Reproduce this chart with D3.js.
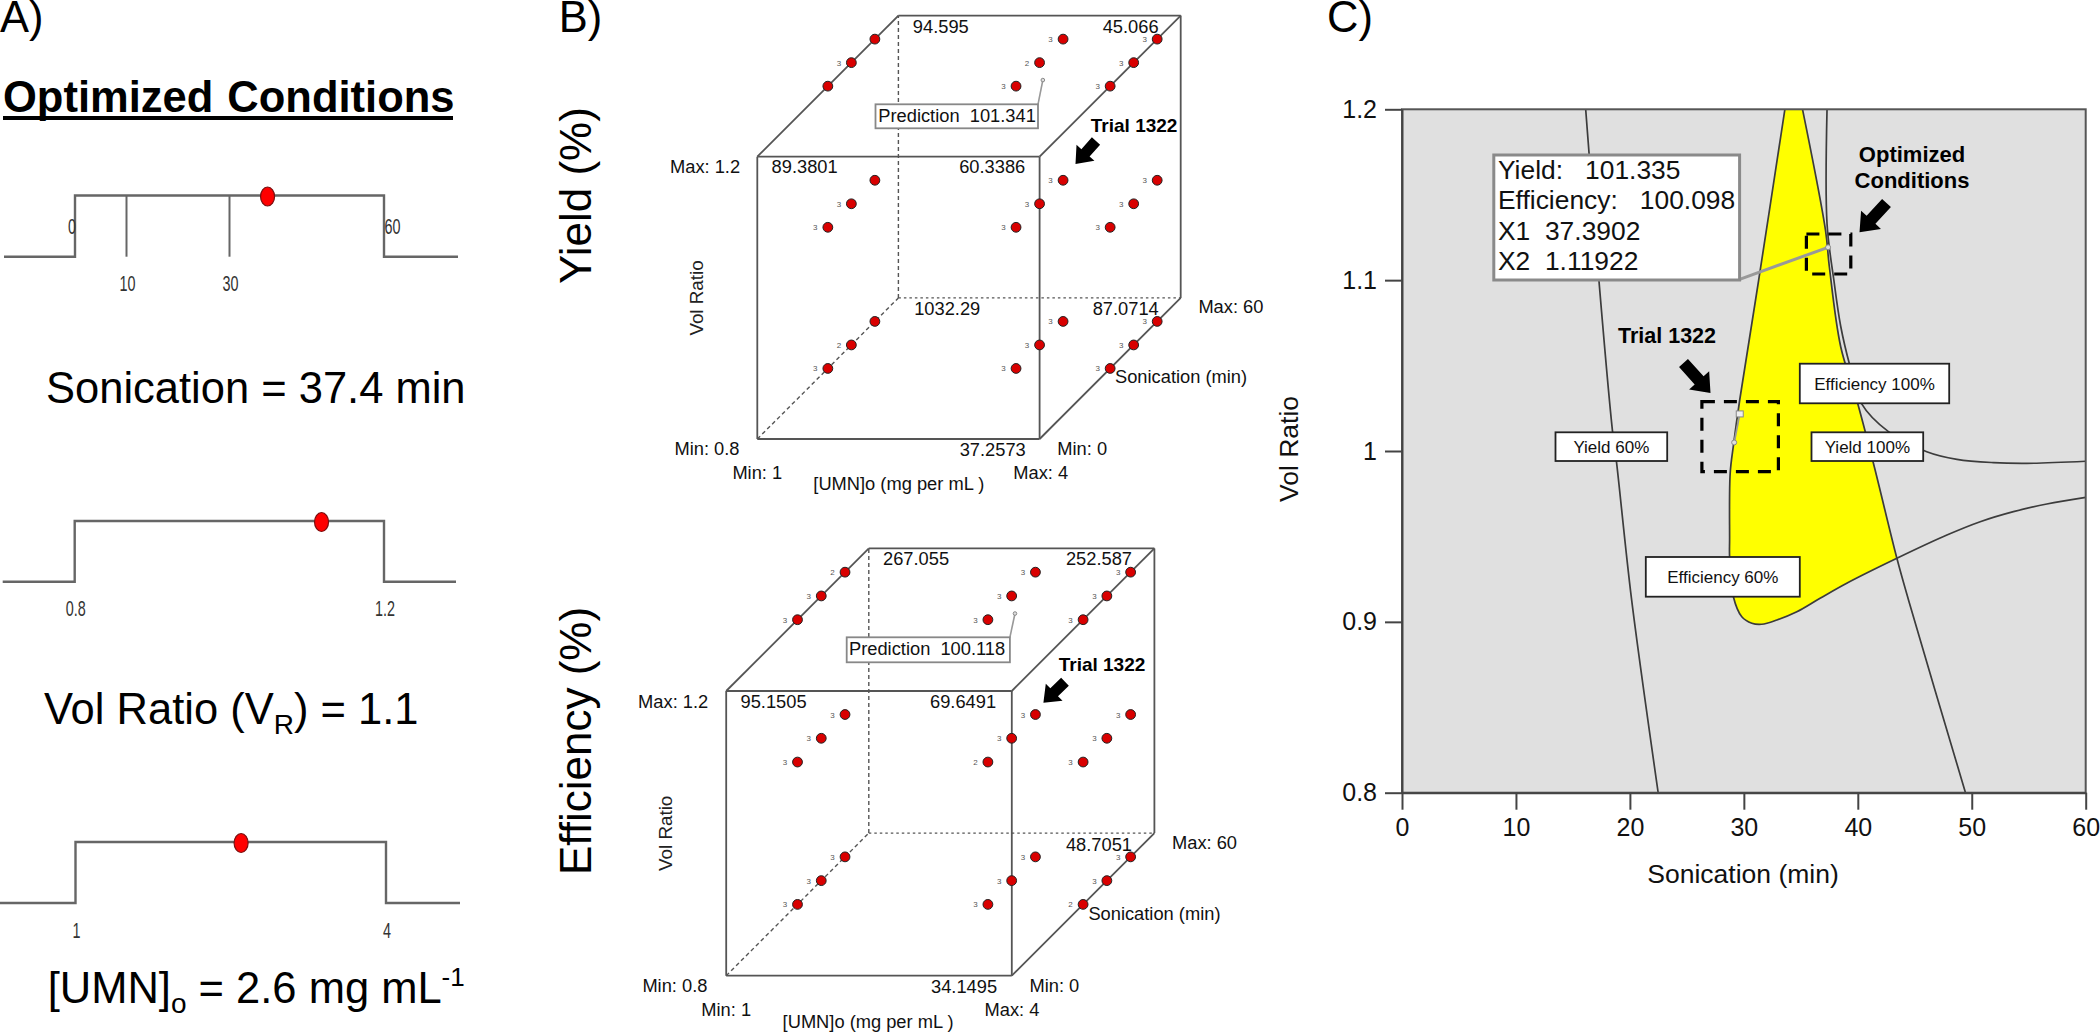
<!DOCTYPE html>
<html><head><meta charset="utf-8">
<script src="https://cdnjs.cloudflare.com/ajax/libs/d3/7.8.5/d3.min.js"></script>
<style>html,body{margin:0;padding:0;background:#fff}svg{display:block}text{font-family:"Liberation Sans",Arial,sans-serif;white-space:pre}</style>
</head><body><svg id="c" width="2100" height="1032"></svg>
<script>
// ---------- DATA ----------
const sonicationRange=[0,60], volRange=[0.8,1.2], umnRange=[1,4];
const sonicationInnerTicks=[10,30];
const optimized={sonication:37.3902, vol:1.11922, umn:2.6};
const designUmn=[1,3,4], designSonication=[30,40,50], designVol=[1.2,1.0,0.8];
// replicate counts: [vol][umn][sonication]; 0 = no label visible
const yieldReplicates=[[[0,3,0],[3,2,3],[3,3,3]],[[3,3,0],[3,3,3],[3,3,3]],[[3,2,0],[3,3,3],[3,3,3]]];
const efficiencyReplicates=[[[3,3,2],[3,3,3],[3,3,3]],[[3,3,3],[2,3,3],[3,3,3]],[[3,3,3],[3,3,3],[2,3,3]]];
const predictionPoint=[3.1,37.39,1.184];
const contourXTicks=[0,10,20,30,40,50,60], contourYTicks=[0.8,0.9,1,1.1,1.2];
const yield60=[[16.12,1.2],[16.43,1.173],[17.28,1.1],[18.5,1.01],[18.8,.995],[20.15,.913],[22.48,.8]];
const yield100=[[35.15,1.2],[37.17,1.129],[37.5,1.108],[38.5,1.061],[39.9,1.03],[41.37,.9928],[43.43,.9372],[44.45,.9128],[49.45,.8]];
const efficiency100=[[37.3,1.2],[37.3,1.133],[37.9,1.1],[38.5,1.073],[39.3,1.05],[40.3,1.028],[42.69,1.0113],[46.05,.9996],[48.7,.9951],[51.9,.9932],[54.84,.9928],[60,.994]];
const efficiency60=[[33.6,1.2],[31.3,1.1],[29.64,1.03],[29.1,1.004],[28.8,.987],[28.75,.948],[28.75,.938],[29.08,.9147],[29.82,.903],[30.7,.8992],[31.57,.8986],[32.9,.9011],[34.65,.9059],[36.69,.9138],[39.03,.9226],[43.43,.9372],[47.82,.9508],[50.74,.9586],[53.66,.9645],[56.59,.969],[60,.9729]];
const windowCorner=[43.43,.9372];
const trialPoints=[[29.15,1.005],[29.64,1.0217]];

// ---------- LAYOUT ----------
const svg=d3.select("#c"), F=43.5;
function txt(x,y,s,o={}){const t=svg.append("text").attr("x",x).attr("y",y).text(s)
  .attr("font-size",o.size||18).attr("fill",o.fill||"#000").attr("text-anchor",o.anchor||"start");
  if(o.weight)t.attr("font-weight",o.weight);
  if(o.len)t.attr("textLength",o.len).attr("lengthAdjust","spacingAndGlyphs");
  if(o.rot)t.attr("transform",`rotate(${o.rot} ${x} ${y})`);return t;}
function arrow(x1,y1,x2,y2,sw=11,hw=24,hl=15){
  const a=Math.atan2(y2-y1,x2-x1)*180/Math.PI,L=Math.hypot(x2-x1,y2-y1);
  const p=[[0,-sw/2],[L-hl,-sw/2],[L-hl,-hw/2],[L,0],[L-hl,hw/2],[L-hl,sw/2],[0,sw/2]];
  svg.append("polygon").attr("points",p.join(" ")).attr("fill","#000").attr("transform",`translate(${x1} ${y1}) rotate(${a})`);}

// ---------- PANEL A ----------
txt(0,32,"A)",{size:F});
txt(3,112,"Optimized Conditions",{size:F,weight:"bold"}).attr("word-spacing",2);
svg.append("rect").attr("x",3).attr("y",116).attr("width",450).attr("height",4).attr("fill","#000");
const stepLayouts=[
 {range:sonicationRange,val:optimized.sonication,top:195.5,low:256.7,a:75,b:384,l:4,r:458,labY:291,labels:[]},
 {range:volRange,val:optimized.vol,top:521,low:581.7,a:74.7,b:384,l:2.7,r:456,labY:616,labels:["0.8","1.2"]},
 {range:umnRange,val:optimized.umn,top:842,low:903,a:75.5,b:386,l:0,r:460,labY:937.5,labels:["1","4"]}];
stepLayouts.forEach((s,i)=>{
  const x=d3.scaleLinear().domain(s.range).range([s.a,s.b]);
  const line=d3.line();
  svg.append("path").attr("fill","none").attr("stroke","#666").attr("stroke-width",2.4)
   .attr("d",line([[s.l,s.low],[x(s.range[0]),s.low],[x(s.range[0]),s.top],[x(s.range[1]),s.top],[x(s.range[1]),s.low],[s.r,s.low]]));
  if(i===0){
    sonicationInnerTicks.forEach(t=>{
      svg.append("line").attr("x1",x(t)).attr("x2",x(t)).attr("y1",s.top).attr("y2",s.low).attr("stroke","#666").attr("stroke-width",2);
      txt(x(t)+1,s.labY,String(t),{size:22,fill:"#333",anchor:"middle",len:16});
    });
    txt(x(0)-3,233.5,"0",{size:22,fill:"#333",anchor:"middle",len:8});
    txt(x(60)+8.5,233.5,"60",{size:22,fill:"#333",anchor:"middle",len:16});
  } else s.range.forEach((r,j)=>txt(x(r)+1,s.labY,s.labels[j],{size:22,fill:"#333",anchor:"middle",len:s.labels[j].length>1?20:8}));
  svg.append("ellipse").attr("cx",x(s.val)).attr("cy",s.top+1).attr("rx",7).attr("ry",9.5).attr("fill","#f00").attr("stroke","#7a1010").attr("stroke-width",1.2);
});
txt(46,403,"Sonication = 37.4 min",{size:F});
(function(){const t=txt(44,724,"",{size:F});
 t.append("tspan").text("Vol Ratio (V");
 t.append("tspan").text("R").attr("font-size",28).attr("dy",10);
 t.append("tspan").text(") = 1.1").attr("dy",-10);
 const u=txt(47.7,1003,"",{size:F});
 u.append("tspan").text("[UMN]");
 u.append("tspan").text("o").attr("font-size",28).attr("dy",10);
 u.append("tspan").text(" = 2.6 mg mL").attr("dy",-10);
 u.append("tspan").text("-1").attr("font-size",26).attr("dy",-17);
})();

// ---------- PANEL B ----------
txt(558.7,31.7,"B)",{size:F});
txt(590.8,284,"Yield (%)",{size:44,rot:-90});
txt(590.8,875,"Efficiency (%)",{size:44,rot:-90});
const cubes=[
 {x0:757.3,W:282.3,D:141.1,y0:439,H:282.3,rep:yieldReplicates,
  labels:[["94.595",912.8,32.7],["45.066",1102.7,32.7],["89.3801",771.6,173.3],["60.3386",959.2,173.3],["Max: 1.2",670,173.3],["1032.29",914.2,315.3],["87.0714",1092.7,315.3],["Max: 60",1198.4,313.3],["Sonication (min)",1115,383.3],["Min: 0.8",674.5,455],["37.2573",959.7,456],["Min: 0",1057.3,455],["Min: 1",732.4,478.7],["Max: 4",1013.3,478.7],["[UMN]o (mg per mL )",813.3,490]],
  vol:[703,298],box:[875.5,104.3,162.5,24],pred:"Prediction  101.341",predT:[878.3,121.7],trial:[1090.8,131.7],arr:[1096,141,1075.5,164]},
 {x0:726.2,W:285.6,D:142.6,y0:975.7,H:284.7,rep:efficiencyReplicates,
  labels:[["267.055",883,565],["252.587",1065.9,565],["95.1505",740.5,707.7],["69.6491",930,707.7],["Max: 1.2",638.1,707.7],["48.7051",1065.9,850.7],["Max: 60",1172,849.3],["Sonication (min)",1088.4,920],["Min: 0.8",642.4,991.7],["34.1495",931,993],["Min: 0",1029.5,991.7],["Min: 1",701.3,1016],["Max: 4",984.5,1016],["[UMN]o (mg per mL )",782.6,1028]],
  vol:[672,833.3],box:[846.7,637.3,163.2,25],pred:"Prediction  100.118",predT:[849,655],trial:[1058.7,670.7],arr:[1065,681.7,1043.4,702.7]}];
cubes.forEach(c=>{
  const u=d3.scaleLinear().domain(umnRange).range([0,c.W]);
  const v=d3.scaleLinear().domain(sonicationRange).range([0,c.D]);
  const w=d3.scaleLinear().domain(volRange).range([0,c.H]);
  const P=(a,b,d)=>[c.x0+u(a)+v(b),c.y0-w(d)-v(b)];
  const [a0,a1]=umnRange,[b0,b1]=sonicationRange,[d0,d1]=volRange;
  const seg=(p,q,o={})=>svg.append("line").attr("x1",p[0]).attr("y1",p[1]).attr("x2",q[0]).attr("y2",q[1])
    .attr("stroke",o.s||"#555").attr("stroke-width",o.w||1.8).attr("stroke-dasharray",o.d||null);
  [[[a0,b1,d0],[a0,b1,d1],"4 3"],[[a0,b1,d0],[a1,b1,d0],"2.5 3"],[[a0,b0,d0],[a0,b1,d0],"4 3"]].forEach(e=>seg(P(...e[0]),P(...e[1]),{d:e[2],w:1.4}));
  [[[a0,b0,d0],[a1,b0,d0]],[[a1,b0,d0],[a1,b0,d1]],[[a1,b0,d1],[a0,b0,d1]],[[a0,b0,d1],[a0,b0,d0]],
   [[a0,b1,d1],[a1,b1,d1]],[[a1,b1,d1],[a1,b1,d0]],[[a0,b0,d1],[a0,b1,d1]],[[a1,b0,d1],[a1,b1,d1]],[[a1,b0,d0],[a1,b1,d0]]].forEach(e=>seg(P(...e[0]),P(...e[1])));
  designVol.forEach((d,i)=>designUmn.forEach((a,j)=>designSonication.forEach((b,k)=>{
    const p=P(a,b,d), n=c.rep[i][j][k];
    if(n) txt(p[0]-12.5,p[1]+3,String(n),{size:8,fill:"#555",anchor:"middle"});
    svg.append("circle").attr("cx",p[0]).attr("cy",p[1]).attr("r",4.9).attr("fill","#d90000").attr("stroke","#222").attr("stroke-width",1);
  })));
  c.labels.forEach(l=>txt(l[1],l[2],l[0],{size:18.3,fill:"#111"}));
  txt(c.vol[0],c.vol[1],"Vol Ratio",{size:18.8,fill:"#222",anchor:"middle",rot:-90});
  // prediction callout
  const pp=P(...predictionPoint);
  seg(pp,[c.box[0]+c.box[2],c.box[1]],{s:"#999",w:1.6});
  svg.append("circle").attr("cx",pp[0]).attr("cy",pp[1]).attr("r",1.8).attr("fill","#ddd").attr("stroke","#888");
  svg.append("rect").attr("x",c.box[0]).attr("y",c.box[1]).attr("width",c.box[2]).attr("height",c.box[3]).attr("fill","#fff").attr("stroke","#888").attr("stroke-width",1.8);
  txt(c.predT[0],c.predT[1],c.pred,{size:18.3,fill:"#111"});
  txt(c.trial[0],c.trial[1],"Trial 1322",{size:19,weight:"bold"});
  arrow(...c.arr);
});

// ---------- PANEL C ----------
txt(1327,32,"C)",{size:F});
const L=1402,R=2085.7,T=109.3,B=792.7;
const X=d3.scaleLinear().domain(sonicationRange).range([L,R]);
const Y=d3.scaleLinear().domain(volRange).range([B,T]);
const curve=d3.line().x(d=>X(d[0])).y(d=>Y(d[1])).curve(d3.curveCatmullRom);
svg.append("rect").attr("x",L).attr("y",T).attr("width",R-L).attr("height",B-T).attr("fill","#e0e0e0");
const upTo=a=>a.slice(0,a.findIndex(p=>p[0]===windowCorner[0])+1);
svg.append("path").attr("fill","#ffff00")
  .attr("d",curve(upTo(efficiency60))+"L"+curve(upTo(yield100).reverse()).slice(1)+"Z");
[yield60,yield100,efficiency100,efficiency60].forEach(a=>
  svg.append("path").attr("d",curve(a)).attr("fill","none").attr("stroke","#3c3c3c").attr("stroke-width",1.7));
svg.append("rect").attr("x",L).attr("y",T).attr("width",R-L).attr("height",B-T).attr("fill","none").attr("stroke","#555").attr("stroke-width",2);
const fmt=d=>String(d);
const ax=svg.append("g").attr("transform",`translate(0,${B})`).call(d3.axisBottom(X).tickValues(contourXTicks).tickFormat(fmt).tickSize(17).tickPadding(9).tickSizeOuter(0));
const ay=svg.append("g").attr("transform",`translate(${L},0)`).call(d3.axisLeft(Y).tickValues(contourYTicks).tickFormat(fmt).tickSize(17).tickPadding(8).tickSizeOuter(0));
[ax,ay].forEach(g=>{g.selectAll("text").attr("font-size",25).attr("font-family",'"Liberation Sans"').attr("fill","#111");
  g.selectAll("line,path").attr("stroke","#444").attr("stroke-width",2);});
txt(1743,883,"Sonication (min)",{size:26.5,anchor:"middle",fill:"#111"});
txt(1298,449,"Vol Ratio",{size:26.5,anchor:"middle",rot:-90,fill:"#111"});
const dash=(x,y,w,h)=>svg.append("rect").attr("x",x).attr("y",y).attr("width",w).attr("height",h).attr("fill","none").attr("stroke","#000").attr("stroke-width",3.2).attr("stroke-dasharray","13 9");
dash(1806.4,234,44.4,40);
dash(1701.9,401.7,76.5,70);
// callout
const opt=[X(optimized.sonication),Y(optimized.vol)];
svg.append("line").attr("x1",1739.6).attr("y1",279.3).attr("x2",opt[0]).attr("y2",opt[1]).attr("stroke","#999").attr("stroke-width",3);
svg.append("circle").attr("cx",opt[0]).attr("cy",opt[1]).attr("r",2.5).attr("fill","#ddd").attr("stroke","#888");
svg.append("rect").attr("x",1493.8).attr("y",155).attr("width",245.8).attr("height",125).attr("fill","#fff").attr("stroke","#8a8a8a").attr("stroke-width",3);
[["Yield:   101.335",179.3],["Efficiency:   100.098",209.3],["X1  37.3902",240],["X2  1.11922",270]].forEach(l=>txt(1498,l[1],l[0],{size:26.4,fill:"#111"}));
txt(1912,161.7,"Optimized",{size:22,weight:"bold",anchor:"middle"});
txt(1912,188,"Conditions",{size:22,weight:"bold",anchor:"middle"});
arrow(1886.5,203,1859.5,232.3,12,27,17);
txt(1667,342.7,"Trial 1322",{size:21.5,weight:"bold",anchor:"middle"});
arrow(1683.5,363,1710.5,393,12,27,17);
// trial marker
const tp=trialPoints.map(d=>[X(d[0]),Y(d[1])]);
svg.append("line").attr("x1",tp[0][0]).attr("y1",tp[0][1]).attr("x2",tp[1][0]).attr("y2",tp[1][1]).attr("stroke","#999").attr("stroke-width",1.8);
svg.append("circle").attr("cx",tp[0][0]).attr("cy",tp[0][1]).attr("r",2.5).attr("fill","#ddd").attr("stroke","#888");
svg.append("rect").attr("x",tp[1][0]-3.5).attr("y",tp[1][1]-3).attr("width",7).attr("height",6).attr("fill","#eee").attr("stroke","#888");
[["Efficiency 100%",1799.8,363.7,149.4,39.6],["Yield 100%",1811.5,432.3,111.7,28.7],["Yield 60%",1555.5,432.3,111.7,28.7],["Efficiency 60%",1645.8,557,154,39.7]].forEach(b=>{
  svg.append("rect").attr("x",b[1]).attr("y",b[2]).attr("width",b[3]).attr("height",b[4]).attr("fill","#fff").attr("stroke","#222").attr("stroke-width",1.8);
  txt(b[1]+b[3]/2,b[2]+b[4]/2+6,b[0],{size:17,anchor:"middle",fill:"#111"});
});
</script></body></html>
